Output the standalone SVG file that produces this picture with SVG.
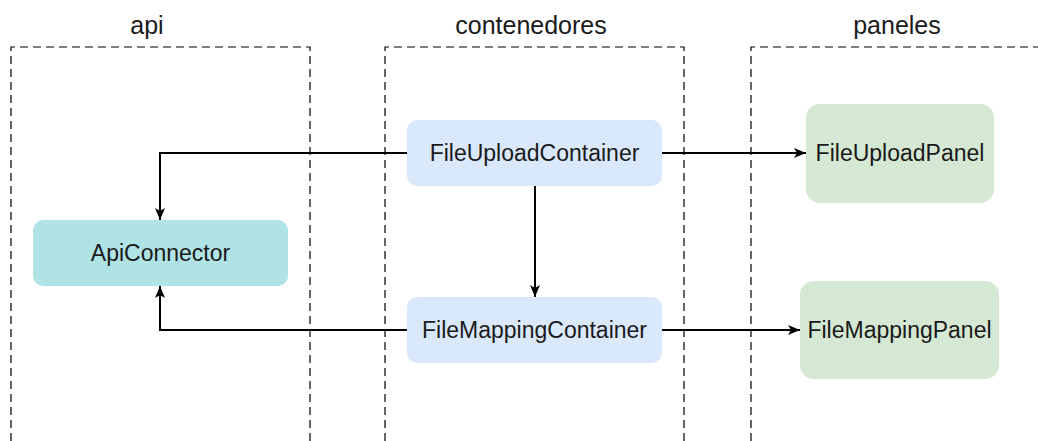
<svg xmlns="http://www.w3.org/2000/svg" width="1038" height="441" viewBox="0 0 1038 441">
<defs>
<style>
.lane{fill:none;stroke:#000;stroke-width:1.2;stroke-dasharray:8 5}
.title{font-family:"Liberation Sans",Arial,sans-serif;font-size:25px;fill:#1a1a1a;text-anchor:middle}
.lbl{font-family:"Liberation Sans",Arial,sans-serif;font-size:23px;fill:#1a1a1a;text-anchor:middle}
.edge{fill:none;stroke:#000;stroke-width:2;marker-end:url(#arr)}
</style>
<marker id="arr" viewBox="0 0 12 10" refX="12" refY="5" markerWidth="12" markerHeight="10" markerUnits="userSpaceOnUse" orient="auto">
<path d="M0,0 L12,5 L0,10 L3,5 Z" fill="#000"/>
</marker>
</defs>
<rect width="1038" height="441" fill="#fff"/>
<g id="lane-api">
<path class="lane" d="M11,441 V47 H310 V441"/>
<text class="title" x="147" y="34">api</text>
</g>
<g id="lane-contenedores">
<path class="lane" d="M385,441 V47 H684 V441"/>
<text class="title" x="531" y="34">contenedores</text>
</g>
<g id="lane-paneles">
<path class="lane" d="M751,441 V47 H1045"/>
<text class="title" x="897" y="34">paneles</text>
</g>
<g id="connectors">
<path class="edge" d="M407,153 H160 V220"/>
<path class="edge" d="M407,330 H160 V286"/>
<path class="edge" d="M535,186 V297"/>
<path class="edge" d="M662,153 H806"/>
<path class="edge" d="M662,330 H800"/>
</g>
<g id="ApiConnector">
<rect x="33" y="220" width="255" height="66" rx="10" fill="#b0e3e6"/>
<text class="lbl" x="160.5" y="261">ApiConnector</text>
</g>
<g id="FileUploadContainer">
<rect x="407" y="120" width="255" height="66" rx="10" fill="#dae8fc"/>
<text class="lbl" x="534.5" y="161">FileUploadContainer</text>
</g>
<g id="FileMappingContainer">
<rect x="407" y="297" width="255" height="66" rx="10" fill="#dae8fc"/>
<text class="lbl" x="534.5" y="338">FileMappingContainer</text>
</g>
<g id="FileUploadPanel">
<rect x="806" y="104" width="188" height="99" rx="14" fill="#d5e8d4"/>
<text class="lbl" x="900" y="161">FileUploadPanel</text>
</g>
<g id="FileMappingPanel">
<rect x="800" y="281" width="199" height="98" rx="14" fill="#d5e8d4"/>
<text class="lbl" x="899.5" y="338">FileMappingPanel</text>
</g>
</svg>
